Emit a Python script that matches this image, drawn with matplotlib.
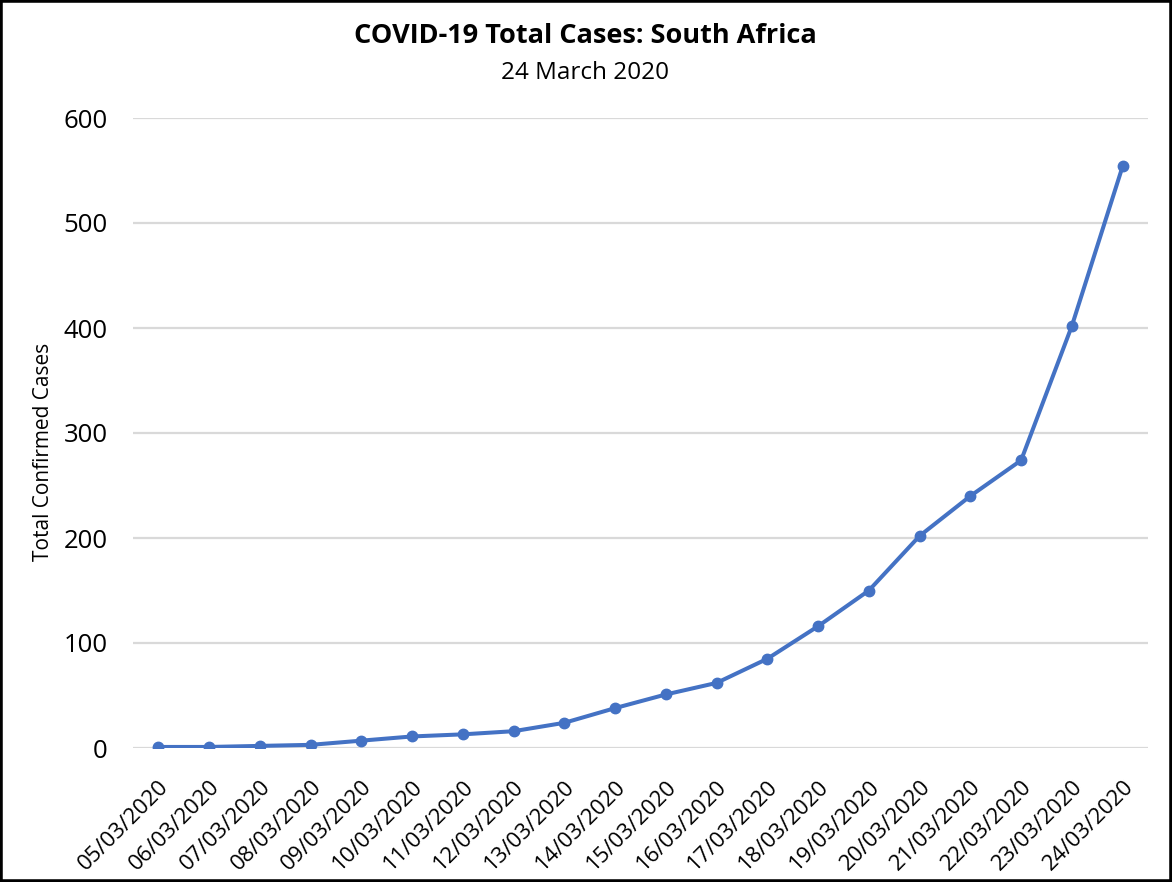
import matplotlib
matplotlib.use("Agg")
import matplotlib.pyplot as plt
from matplotlib.patches import Rectangle

dates = ["05/03/2020", "06/03/2020", "07/03/2020", "08/03/2020", "09/03/2020",
         "10/03/2020", "11/03/2020", "12/03/2020", "13/03/2020", "14/03/2020",
         "15/03/2020", "16/03/2020", "17/03/2020", "18/03/2020", "19/03/2020",
         "20/03/2020", "21/03/2020", "22/03/2020", "23/03/2020", "24/03/2020"]
cases = [1, 1, 2, 3, 7, 11, 13, 16, 24, 38, 51, 62, 85, 116, 150, 202, 240, 274, 402, 554]
yticks = [0, 100, 200, 300, 400, 500, 600]

plt.rcParams['font.family'] = ['Open Sans', 'DejaVu Sans']

fig = plt.figure(figsize=(11.72, 8.82), dpi=100)
L, R, T, B = 133, 1148, 118, 748
ax = fig.add_axes([L/1172, 1-B/882, (R-L)/1172, (B-T)/882])

x = list(range(len(dates)))
ax.plot(x, cases, color='#4472C4', linewidth=2.9, marker='o', markersize=7.5,
        solid_joinstyle='miter', zorder=3)

ax.set_ylim(0, 600)
ax.set_xlim(-0.5, len(dates) - 0.5)
ax.set_yticks(yticks)
ax.set_yticklabels([str(v) for v in yticks], fontsize=18.5)
ax.set_xticks(x)
ax.set_xticklabels(dates, rotation=45, ha='right', va='top', rotation_mode='anchor', fontsize=16)
ax.tick_params(axis='both', length=0)
ax.tick_params(axis='y', pad=18)
ax.tick_params(axis='x', pad=20)
ax.grid(axis='y', color='#d9d9d9', linewidth=1.6)
ax.set_axisbelow(True)
for s in ax.spines.values():
    s.set_visible(False)

ax.set_ylabel("Total Confirmed Cases", fontsize=15)
ax.yaxis.set_label_coords((54 - L) / (R - L), (B - 452) / (B - T))

fig.text(585/1172, 1-36/882, "COVID-19 Total Cases: South Africa", ha='center', va='center',
         fontsize=19.5, fontweight='bold')
fig.text(585/1172, 1-73/882, "24 March 2020", ha='center', va='center', fontsize=17.5)

fig.patches.append(Rectangle((0, 0), 1, 1, transform=fig.transFigure, fill=False,
                             edgecolor='black', linewidth=4))

fig.savefig("out.png", dpi=100)
